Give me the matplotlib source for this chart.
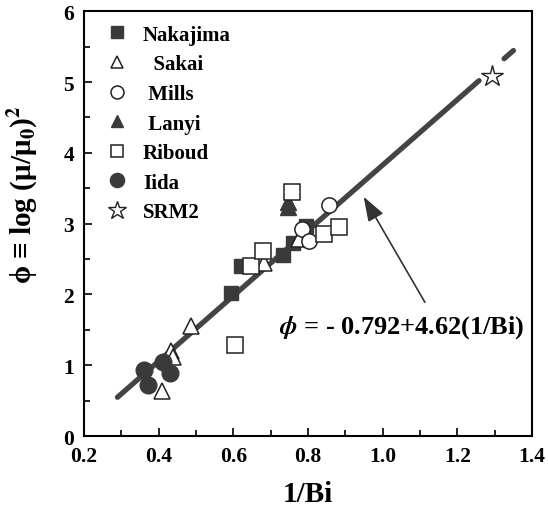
import matplotlib.pyplot as plt
import numpy as np

plt.rcParams['font.family'] = ['Liberation Serif', 'DejaVu Serif']
plt.rcParams['font.weight'] = 'bold'
plt.rcParams['mathtext.fontset'] = 'stix'

# data
nakajima_x = [0.595, 0.621, 0.734, 0.761, 0.796]
nakajima_y = [2.02, 2.40, 2.56, 2.72, 2.96]
sakai_x = [0.408, 0.432, 0.440, 0.487, 0.683, 0.775]
sakai_y = [0.63, 1.20, 1.12, 1.55, 2.44, 2.78]
mills_x = [0.783, 0.804, 0.855]
mills_y = [2.92, 2.76, 3.26]
lanyi_x = [0.747, 0.747]
lanyi_y = [3.30, 3.23]
riboud_x = [0.605, 0.648, 0.680, 0.758, 0.844, 0.882]
riboud_y = [1.28, 2.40, 2.62, 3.45, 2.86, 2.95]
iida_x = [0.360, 0.372, 0.412, 0.430]
iida_y = [0.93, 0.72, 1.05, 0.89]
srm2_x = [1.292]
srm2_y = [5.08]

a0 = -0.792
a1 = 4.62
fit_x1 = np.array([0.29, 1.258])
fit_x2 = np.array([1.325, 1.35])

dark = '#3a3a3a'
fig, ax = plt.subplots(figsize=(5.48, 5.10), dpi=100)
fig.subplots_adjust(left=0.153, right=0.971, bottom=0.143, top=0.976)

ax.plot(fit_x1, a0 + a1 * fit_x1, color='#444444', lw=3.8, solid_capstyle='round', zorder=2)
ax.plot(fit_x2, a0 + a1 * fit_x2, color='#444444', lw=3.8, solid_capstyle='round', zorder=2)

ms = 11
ax.plot(nakajima_x, nakajima_y, 's', ms=ms - 1, color=dark, mec=dark, label='Nakajima', zorder=3)
ax.plot(sakai_x, sakai_y, '^', ms=ms, mfc='white', mec='#222222', mew=1.1, label='  Sakai', zorder=3)
ax.plot(mills_x, mills_y, 'o', ms=ms, mfc='white', mec='#222222', mew=1.1, label=' Mills', zorder=3)
ax.plot(lanyi_x, lanyi_y, '^', ms=ms, color=dark, mec=dark, label=' Lanyi', zorder=3)
ax.plot(riboud_x, riboud_y, 's', ms=ms, mfc='white', mec='#222222', mew=1.1, label='Riboud', zorder=3)
ax.plot(iida_x, iida_y, 'o', ms=ms + 1, color=dark, mec=dark, label='Iida', zorder=3)
ax.plot(srm2_x, srm2_y, '*', ms=ms + 5, mfc='white', mec='#222222', mew=1.0, label='SRM2', zorder=3)

ax.legend(loc='upper left', bbox_to_anchor=(0.02, 1.0), frameon=False, fontsize=15,
          handlelength=1.0, handletextpad=0.75, labelspacing=0.46, borderaxespad=0.25,
          markerscale=0.85)

ax.annotate('', xy=(0.949, 3.38), xytext=(1.113, 1.89),
            arrowprops=dict(arrowstyle='-|>,head_length=1.0,head_width=0.35', color='#333333',
                            lw=1.2, mutation_scale=15, shrinkA=0, shrinkB=0))
ax.text(1.05, 1.55, r'$\phi$ = - 0.792+4.62(1/Bi)', fontsize=19, fontweight='bold',
        ha='center', va='center')

ax.set_xlim(0.2, 1.4)
ax.set_ylim(0, 6)
ax.set_xticks(np.arange(0.2, 1.41, 0.2))
ax.set_xticks(np.arange(0.3, 1.4, 0.2), minor=True)
ax.set_yticks(np.arange(0, 7, 1))
ax.set_yticks(np.arange(0.5, 6, 1), minor=True)
ax.set_xticklabels(['0.2', '0.4', '0.6', '0.8', '1.0', '1.2', '1.4'])
ax.tick_params(which='both', direction='in', labelsize=15.5, width=1.2)
ax.tick_params(which='major', length=6, pad=7)
ax.tick_params(which='minor', length=4)
for s in ax.spines.values():
    s.set_linewidth(1.5)

ax.set_xlabel('1/Bi', fontsize=21, fontweight='bold', labelpad=10)
ax.set_ylabel('ϕ ≡ log (μ/μ$_0$)$^2$', fontsize=21, fontweight='bold')
ax.yaxis.set_label_coords(-0.10, 0.57)

plt.savefig('out.png', dpi=100)
